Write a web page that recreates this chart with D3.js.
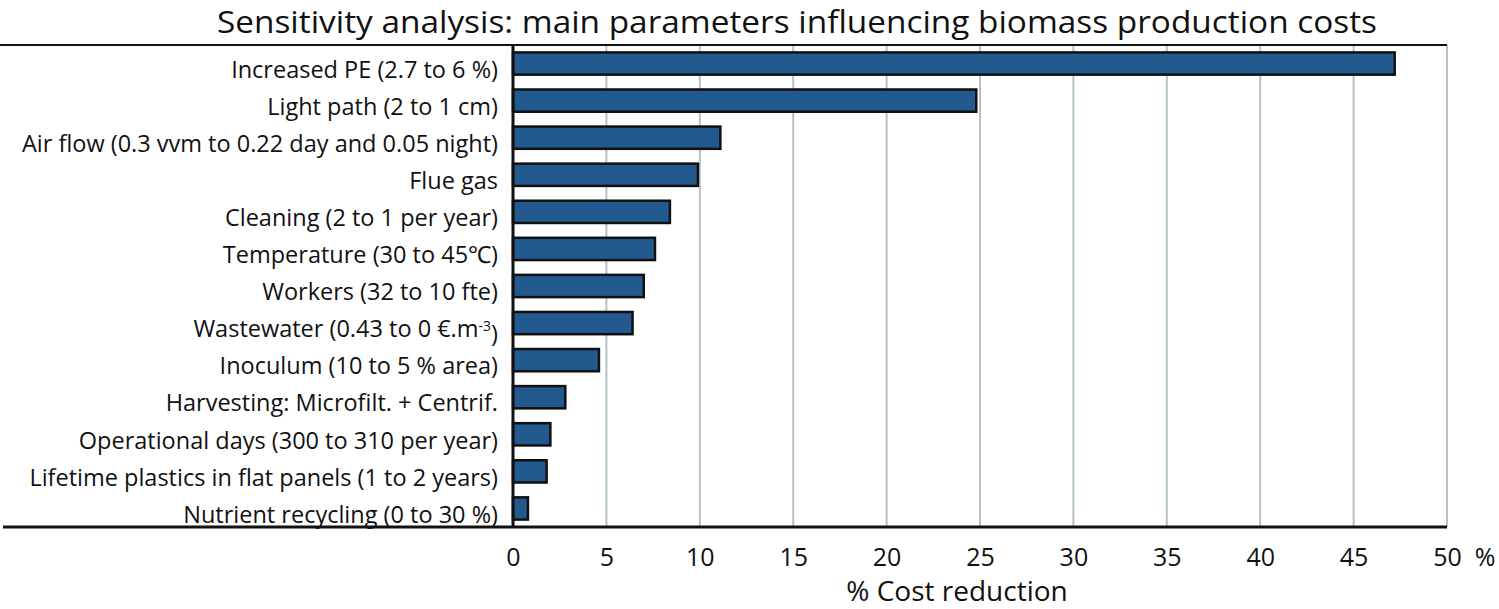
<!DOCTYPE html>
<html><head><meta charset="utf-8">
<script src="https://cdn.jsdelivr.net/npm/d3@7"></script>
<style>
body{margin:0;background:#fff;}
svg text{font-family:"Open Sans","Lato",sans-serif;fill:#111;}
</style></head>
<body><svg id="c" width="1499" height="609"></svg>
<script>
const titleText = "Sensitivity analysis: main parameters influencing biomass production costs";
const categories = [
  "Increased PE (2.7 to 6 %)",
  "Light path (2 to 1 cm)",
  "Air flow (0.3 vvm to 0.22 day and 0.05 night)",
  "Flue gas",
  "Cleaning (2 to 1 per year)",
  "Temperature (30 to 45\u2103)",
  "Workers (32 to 10 fte)",
  "Wastewater (0.43 to 0 \u20AC.m|-3|)",
  "Inoculum (10 to 5 % area)",
  "Harvesting: Microfilt. + Centrif.",
  "Operational days (300 to 310 per year)",
  "Lifetime plastics in flat panels (1 to 2 years)",
  "Nutrient recycling (0 to 30 %)"
];
const values = [47.2, 24.8, 11.1, 9.9, 8.4, 7.6, 7.0, 6.4, 4.6, 2.8, 2.0, 1.8, 0.8];
const tickValues = [0,5,10,15,20,25,30,35,40,45,50];
const xAxisTitle = "% Cost reduction";
const unitLabel = "%";

const svg = d3.select("#c");
const L = 513, R = 1447, T = 45, B = 527;
const x = d3.scaleLinear().domain([0,50]).range([L,R]);
const y = d3.scaleBand().domain(categories).range([T,B]).paddingInner(0.4).paddingOuter(0.2);

// title
svg.append("text").attr("x",797).attr("y",33).attr("text-anchor","middle")
  .style("font-size","31px").attr("textLength",1160).attr("lengthAdjust","spacingAndGlyphs").text(titleText);

// gridlines
svg.append("g").selectAll("line").data(tickValues.filter(d=>d>0)).join("line")
  .attr("x1",d=>x(d)).attr("x2",d=>x(d)).attr("y1",T).attr("y2",B)
  .attr("stroke","#b3c3c5").attr("stroke-width",2);

// top and bottom lines
svg.append("line").attr("x1",0).attr("x2",R).attr("y1",T).attr("y2",T).attr("stroke","#111").attr("stroke-width",2);
svg.append("line").attr("x1",3).attr("x2",R).attr("y1",B).attr("y2",B).attr("stroke","#111").attr("stroke-width",3);

// bars
svg.append("g").selectAll("rect").data(values).join("rect")
  .attr("x",x(0)).attr("y",(d,i)=>y(categories[i]))
  .attr("width",d=>x(d)-x(0)).attr("height",y.bandwidth())
  .attr("fill","#225a8f").attr("stroke","#111").attr("stroke-width",2.5);

// y axis line
svg.append("line").attr("x1",L).attr("x2",L).attr("y1",T).attr("y2",B).attr("stroke","#111").attr("stroke-width",3);

// category labels
const lab = svg.append("g").selectAll("text").data(categories).join("text")
  .attr("x",498).attr("y",d=>y(d)+y.bandwidth()/2+6).attr("dy","0.35em")
  .attr("text-anchor","end").style("font-size","23.5px");
lab.each(function(d){
  const parts = d.split("|");
  const t = d3.select(this);
  parts.forEach((p,i)=>{
    const ts = t.append("tspan").text(p);
    if(i===1) ts.attr("dy","-0.45em").style("font-size","14px");
    if(i===2 && p.length) ts.attr("dy","0.45em");
  });
});

// x axis tick labels
const ax = svg.append("g").attr("transform",`translate(0,${B})`)
  .call(d3.axisBottom(x).tickValues(tickValues).tickSize(0).tickPadding(21).tickFormat(d3.format("d")));
ax.select(".domain").remove();
ax.selectAll("text").style("font-size","25px").style("font-family",'"Open Sans","Lato",sans-serif').attr("fill","#111");

svg.append("text").attr("x",1485).attr("y",566).attr("text-anchor","middle").style("font-size","25px").text(unitLabel);
svg.append("text").attr("x",957).attr("y",601).attr("text-anchor","middle").style("font-size","28px").text(xAxisTitle);
</script></body></html>
